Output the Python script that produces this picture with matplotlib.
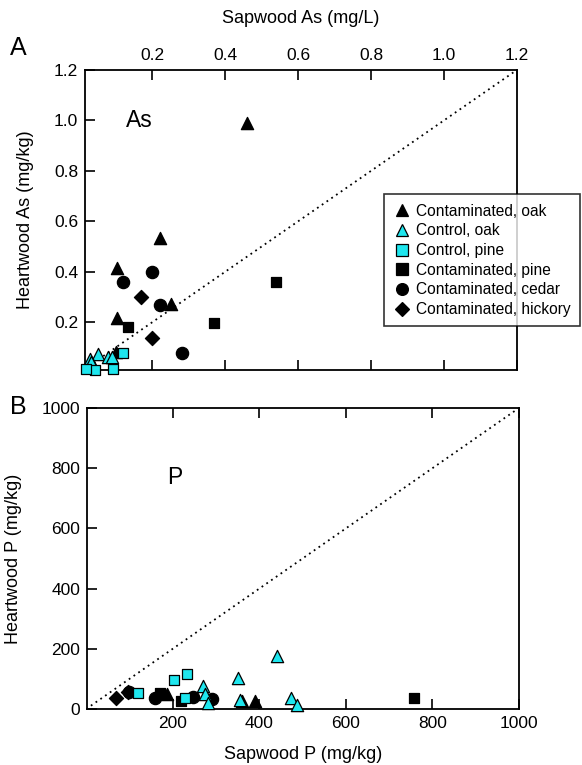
import matplotlib
matplotlib.use('Agg')
import matplotlib.pyplot as plt
from matplotlib.lines import Line2D

plt.rcParams['font.family'] = ['Liberation Sans', 'DejaVu Sans']

CYAN = '#1ee6ee'

# Panel A: arsenic, sapwood (mg/L) vs heartwood (mg/kg)
as_cont_oak_x = [0.46, 0.221, 0.102, 0.25, 0.102, 0.10]
as_cont_oak_y = [0.99, 0.532, 0.413, 0.27, 0.215, 0.08]
as_ctrl_oak_x = [0.051, 0.028, 0.079, 0.09, 0.032]
as_ctrl_oak_y = [0.073, 0.052, 0.062, 0.062, 0.04]
as_ctrl_pine_x = [0.12, 0.092, 0.042, 0.019]
as_ctrl_pine_y = [0.078, 0.016, 0.01, 0.016]
as_cont_pine_x = [0.539, 0.132, 0.370]
as_cont_pine_y = [0.36, 0.181, 0.195]
as_cont_cedar_x = [0.2, 0.12, 0.221, 0.28]
as_cont_cedar_y = [0.40, 0.36, 0.267, 0.078]
as_cont_hick_x = [0.170, 0.2]
as_cont_hick_y = [0.298, 0.138]

# Panel B: phosphorus, sapwood vs heartwood (mg/kg)
p_cont_oak_x = [186, 360, 391]
p_cont_oak_y = [50, 25, 28]
p_ctrl_oak_x = [271, 275, 282, 351, 355, 440, 473, 488]
p_ctrl_oak_y = [77, 50, 19, 102, 30, 176, 38, 13]
p_ctrl_pine_x = [119, 204, 232, 228]
p_ctrl_pine_y = [54, 96, 116, 35]
p_cont_pine_x = [171, 218, 757]
p_cont_pine_y = [52, 28, 38]
p_cont_cedar_x = [100, 159, 248, 291]
p_cont_cedar_y = [55, 38, 41, 33]
p_cont_hick_x = [69, 96]
p_cont_hick_y = [38, 56]

series_names = ['Contaminated, oak', 'Control, oak', 'Control, pine',
                'Contaminated, pine', 'Contaminated, cedar', 'Contaminated, hickory']
markers = ['^', '^', 's', 's', 'o', 'D']
faces = ['black', CYAN, CYAN, 'black', 'black', 'black']
sizes = [78, 78, 62, 62, 78, 52]

as_data = [(as_cont_oak_x, as_cont_oak_y), (as_ctrl_oak_x, as_ctrl_oak_y),
           (as_ctrl_pine_x, as_ctrl_pine_y), (as_cont_pine_x, as_cont_pine_y),
           (as_cont_cedar_x, as_cont_cedar_y), (as_cont_hick_x, as_cont_hick_y)]
p_data = [(p_cont_oak_x, p_cont_oak_y), (p_ctrl_oak_x, p_ctrl_oak_y),
          (p_ctrl_pine_x, p_ctrl_pine_y), (p_cont_pine_x, p_cont_pine_y),
          (p_cont_cedar_x, p_cont_cedar_y), (p_cont_hick_x, p_cont_hick_y)]

# draw order so cyan controls sit on top near the origin, like the original
order = [0, 3, 4, 5, 1, 2]

fig = plt.figure(figsize=(5.82, 7.65), dpi=100)
axA = fig.add_axes([0.146, 0.5163, 0.742, 0.3922])
axB = fig.add_axes([0.1495, 0.0732, 0.7423, 0.3935])


def scatter_all(ax, data):
    for i in order:
        x, y = data[i]
        ax.scatter(x, y, marker=markers[i], s=sizes[i], c=faces[i],
                   edgecolors='black', linewidths=0.9, zorder=3, clip_on=False)


def style_axis(ax):
    for sp in ax.spines.values():
        sp.set_linewidth(1.3)
    ax.tick_params(direction='in', length=7, width=1.2, labelsize=12.5,
                   top=True, bottom=True, left=True, right=False, pad=5)


# Panel A
axA.plot([0, 1.2], [0, 1.2], color='black', linestyle=(0, (1, 2.2)), lw=1.3, zorder=2)
scatter_all(axA, as_data)
axA.set_xlim(0.015, 1.2)
axA.set_ylim(0.01, 1.2)
axA.set_xticks([0.2, 0.4, 0.6, 0.8, 1.0, 1.2])
axA.set_yticks([0.2, 0.4, 0.6, 0.8, 1.0, 1.2])
axA.set_xticklabels(['0.2', '0.4', '0.6', '0.8', '1.0', '1.2'])
axA.set_yticklabels(['0.2', '0.4', '0.6', '0.8', '1.0', '1.2'])
style_axis(axA)
axA.tick_params(labeltop=True, labelbottom=False)
axA.xaxis.set_label_position('top')
axA.set_xlabel('Sapwood As (mg/L)', fontsize=13, labelpad=18)
axA.set_ylabel('Heartwood As (mg/kg)', fontsize=13, labelpad=14)
axA.text(0.165, 1.0, 'As', fontsize=16.5, ha='center', va='center')

# Panel B
axB.plot([0, 1000], [0, 1000], color='black', linestyle=(0, (1, 2.2)), lw=1.3, zorder=2)
scatter_all(axB, p_data)
axB.set_xlim(2, 1000)
axB.set_ylim(0, 1000)
axB.set_xticks([200, 400, 600, 800, 1000])
axB.set_yticks([0, 200, 400, 600, 800, 1000])
style_axis(axB)
axB.set_xlabel('Sapwood P (mg/kg)', fontsize=13, labelpad=11)
axB.set_ylabel('Heartwood P (mg/kg)', fontsize=13, labelpad=14)
axB.text(205, 770, 'P', fontsize=16.5, ha='center', va='center')

fig.text(0.031, 0.937, 'A', fontsize=18, ha='center', va='center')
fig.text(0.031, 0.468, 'B', fontsize=18, ha='center', va='center')

handles = [Line2D([], [], linestyle='none', marker=markers[i], markersize=8.5 if markers[i] != 'D' else 7,
                  markerfacecolor=faces[i], markeredgecolor='black', markeredgewidth=0.9)
           for i in range(6)]
leg = fig.legend(handles, series_names, loc='upper right', bbox_to_anchor=(0.997, 0.746),
                 fontsize=11.2, frameon=True, fancybox=False, handletextpad=0.35,
                 labelspacing=0.3, borderpad=0.6, handlelength=1.1, borderaxespad=0)
leg.get_frame().set_edgecolor('black')
leg.get_frame().set_linewidth(1.2)

fig.savefig('out.png', dpi=100)
